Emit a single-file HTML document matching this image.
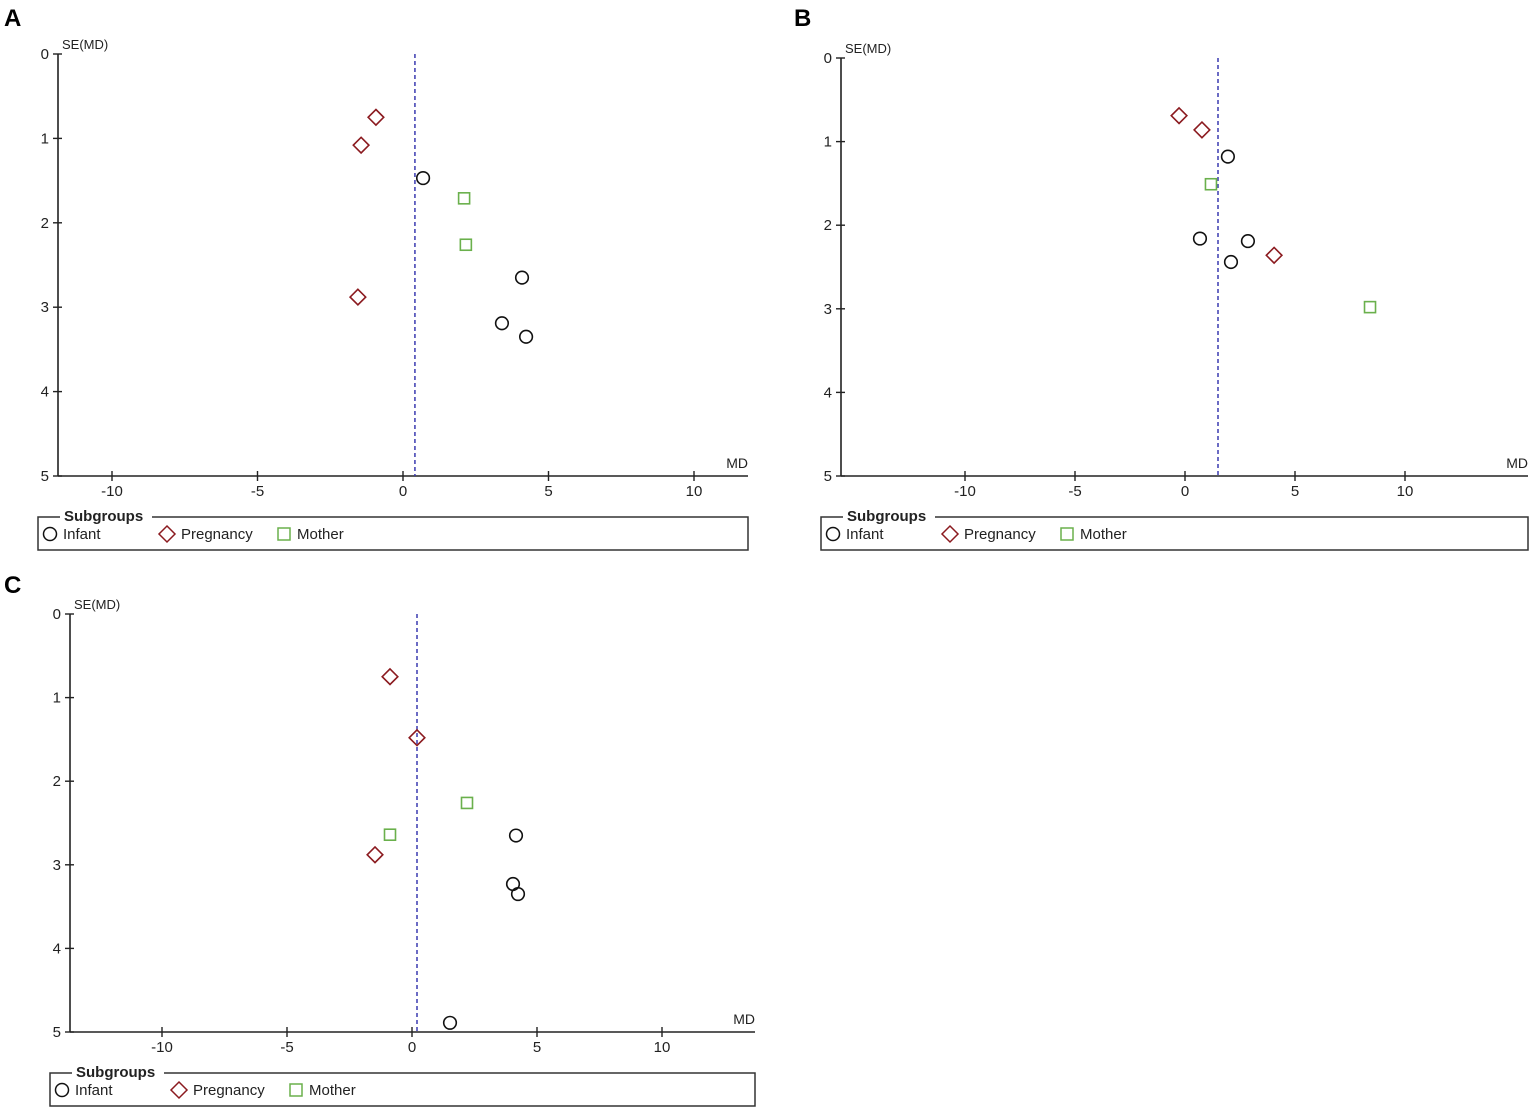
<!DOCTYPE html>
<html><head><meta charset="utf-8"><style>
body{margin:0;background:#fff;}
svg{display:block;font-family:"Liberation Sans",sans-serif;}
</style></head><body>
<svg id="fig" width="1535" height="1118" viewBox="0 0 1535 1118">
<text x="4" y="26" font-size="24" font-weight="bold">A</text>
<text x="794" y="26" font-size="24" font-weight="bold">B</text>
<text x="4" y="593" font-size="24" font-weight="bold">C</text>
</svg>
<script>
const xTicks = [-10,-5,0,5,10];
const yTicks = [0,1,2,3,4,5];
const legendLabels = ["Infant","Pregnancy","Mother"];
// Panel A
const aPooled = 0.41;
const aInfantMD = [0.69,4.09,3.40,4.23];
const aInfantSE = [1.47,2.65,3.19,3.35];
const aPregMD = [-0.93,-1.44,-1.55];
const aPregSE = [0.75,1.08,2.88];
const aMotherMD = [2.10,2.16];
const aMotherSE = [1.71,2.26];
// Panel B
const bPooled = 1.5;
const bInfantMD = [1.95,0.68,2.86,2.09];
const bInfantSE = [1.18,2.16,2.19,2.44];
const bPregMD = [-0.27,0.77,4.05];
const bPregSE = [0.69,0.86,2.36];
const bMotherMD = [1.18,8.41];
const bMotherSE = [1.51,2.98];
// Panel C
const cPooled = 0.2;
const cInfantMD = [4.16,4.04,4.24,1.52];
const cInfantSE = [2.65,3.23,3.35,4.89];
const cPregMD = [-0.88,0.2,-1.48];
const cPregSE = [0.75,1.48,2.88];
const cMotherMD = [2.2,-0.88];
const cMotherSE = [2.26,2.64];

const NS='http://www.w3.org/2000/svg';
const svg=document.getElementById('fig');
function mk(tag,attrs,parent,txt){const e=document.createElementNS(NS,tag);for(const k in attrs)e.setAttribute(k,attrs[k]);if(txt!==undefined)e.textContent=txt;(parent||svg).appendChild(e);return e;}

function panel(id,cfg){
  const g=mk('g',{});
  
  
  const sx=v=>cfg.x0+v*cfg.ppx, sy=v=>cfg.y0+v*cfg.ppy;
  const bottom=sy(5);
  const ya=mk('line',{x1:cfg.axL,y1:sy(0),x2:cfg.axL,y2:bottom,stroke:'#222','stroke-width':1.6},g);
  
  
  const xa=mk('line',{x1:cfg.axL,y1:bottom,x2:cfg.axR,y2:bottom,stroke:'#222','stroke-width':1.6},g);
  
  
  yTicks.forEach(t=>{
    mk('line',{x1:cfg.axL-5,y1:sy(t),x2:cfg.axL+4,y2:sy(t),stroke:'#222','stroke-width':1.4},g);
    const tl=mk('text',{x:cfg.axL-9,y:sy(t)+5,'font-size':15,'text-anchor':'end',fill:'#222'},g,String(t));
    
    
  });
  xTicks.forEach(t=>{
    mk('line',{x1:sx(t),y1:bottom-5,x2:sx(t),y2:bottom+5,stroke:'#222','stroke-width':1.4},g);
    const tl=mk('text',{x:sx(t),y:bottom+20,'font-size':15,'text-anchor':'middle',fill:'#222'},g,t<0?'-'+(-t):String(t));
    
    
  });
  const yt=mk('text',{x:cfg.axL+4,y:sy(0)-5,'font-size':13,fill:'#222'},g,'SE(MD)');
  
  
  const xt=mk('text',{x:cfg.axR,y:bottom-8,'font-size':14,'text-anchor':'end',fill:'#222'},g,'MD');
  
  
  const pl=mk('line',{x1:sx(cfg.pooled),y1:sy(0),x2:sx(cfg.pooled),y2:bottom,stroke:'#3a3ab0','stroke-width':1.5,'stroke-dasharray':'4,3'},g);
  
  
  cfg.inf[0].forEach((v,i)=>{
    const c=mk('circle',{cx:sx(v),cy:sy(cfg.inf[1][i]),r:6.3,fill:'none',stroke:'#111','stroke-width':1.6},g);
    
    
  });
  cfg.preg[0].forEach((v,i)=>{
    const x=sx(v),y=sy(cfg.preg[1][i]),h=7.8;
    const p=mk('polygon',{points:`${x},${y-h} ${x+h},${y} ${x},${y+h} ${x-h},${y}`,fill:'none',stroke:'#8b1a1f','stroke-width':1.6},g);
    
    
  });
  cfg.mom[0].forEach((v,i)=>{
    const r=mk('rect',{x:sx(v)-5.5,y:sy(cfg.mom[1][i])-5.5,width:11,height:11,fill:'none',stroke:'#6ab04c','stroke-width':1.6},g);
    
    
  });
  const L=cfg.leg;
  const lg=mk('g',{},g);
  
  
  mk('path',{d:`M${L.x+22},${L.y} L${L.x},${L.y} L${L.x},${L.y+33} L${cfg.axR},${L.y+33} L${cfg.axR},${L.y} L${L.x+114},${L.y}`,fill:'none',stroke:'#333','stroke-width':1.5},lg);
  const lt=mk('text',{x:L.x+26,y:L.y+4,'font-size':15,'font-weight':'bold',fill:'#222'},lg,'Subgroups');
  
  
  const cy=L.y+17;
  const e1=mk('g',{},lg);
  
  
  mk('circle',{cx:L.x+12,cy:cy,r:6.5,fill:'none',stroke:'#111','stroke-width':1.5},e1);
  mk('text',{x:L.x+25,y:cy+5,'font-size':15,fill:'#222'},e1,legendLabels[0]);
  const e2=mk('g',{},lg);
  
  
  const dx=L.x+129;
  mk('polygon',{points:`${dx},${cy-8} ${dx+8},${cy} ${dx},${cy+8} ${dx-8},${cy}`,fill:'none',stroke:'#8b1a1f','stroke-width':1.5},e2);
  mk('text',{x:L.x+143,y:cy+5,'font-size':15,fill:'#222'},e2,legendLabels[1]);
  const e3=mk('g',{},lg);
  
  
  mk('rect',{x:L.x+240,y:cy-6,width:12,height:12,fill:'none',stroke:'#6ab04c','stroke-width':1.5},e3);
  mk('text',{x:L.x+259,y:cy+5,'font-size':15,fill:'#222'},e3,legendLabels[2]);
}
panel('a',{x0:403,ppx:29.1,y0:54,ppy:84.4,axL:58,axR:748,pooled:aPooled,
  inf:[aInfantMD,aInfantSE],preg:[aPregMD,aPregSE],mom:[aMotherMD,aMotherSE],leg:{x:38,y:517}});
panel('b',{x0:1185,ppx:22,y0:58,ppy:83.6,axL:841,axR:1528,pooled:bPooled,
  inf:[bInfantMD,bInfantSE],preg:[bPregMD,bPregSE],mom:[bMotherMD,bMotherSE],leg:{x:821,y:517}});
panel('c',{x0:412,ppx:25,y0:614,ppy:83.6,axL:70,axR:755,pooled:cPooled,
  inf:[cInfantMD,cInfantSE],preg:[cPregMD,cPregSE],mom:[cMotherMD,cMotherSE],leg:{x:50,y:1073}});
</script>
</body></html>
